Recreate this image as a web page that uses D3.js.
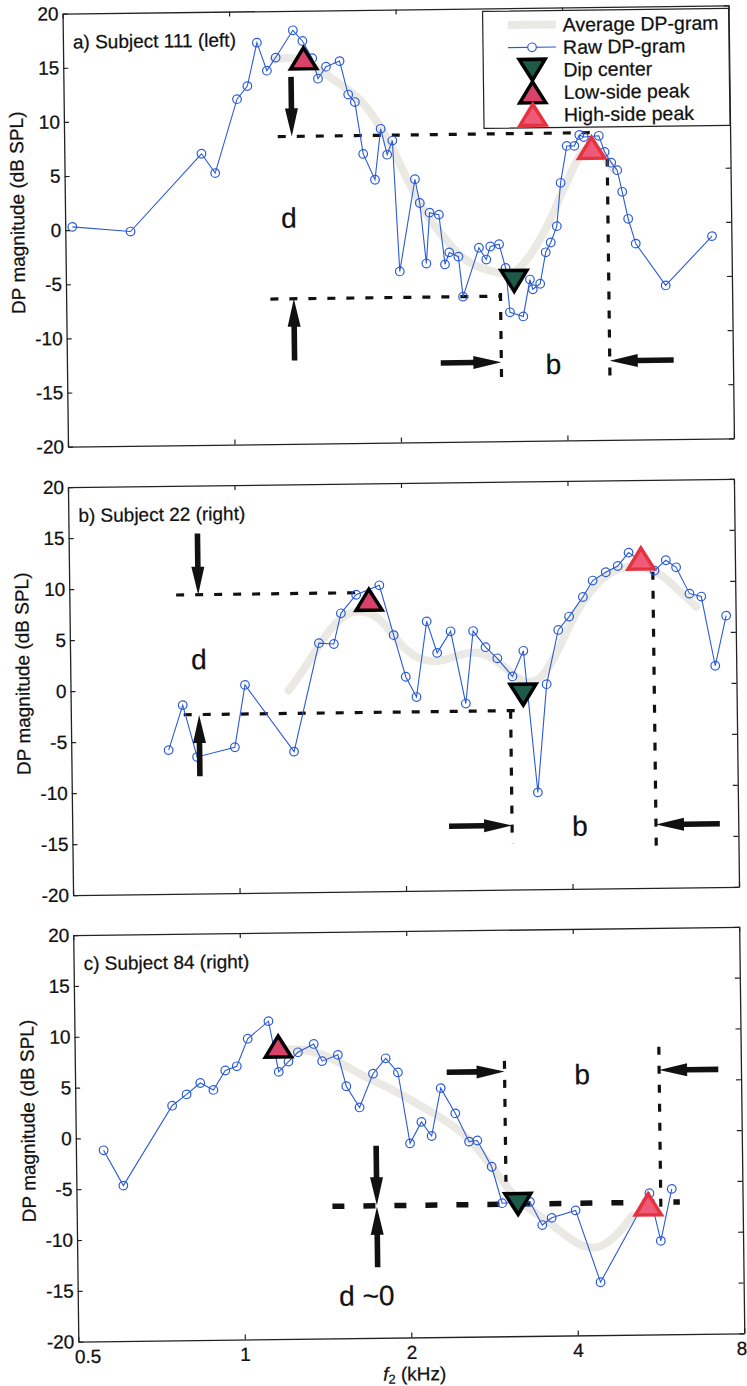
<!DOCTYPE html>
<html>
<head>
<meta charset="utf-8">
<script src="https://cdnjs.cloudflare.com/ajax/libs/d3/7.8.5/d3.min.js"></script>
<style>
  body { margin: 0; background: #fff; }
  svg text { font-family: "Liberation Sans", Arial, Helvetica, sans-serif; fill: #111; stroke: #111; stroke-width: 0.25px; }
</style>
</head>
<body>
<div id="chart"></div>
<script>
var freqTicks = [0.5, 1, 2, 4, 8];
var dbTicks = [-20, -15, -10, -5, 0, 5, 10, 15, 20];
var legendLabels = ["Average DP-gram", "Raw DP-gram", "Dip center", "Low-side peak", "High-side peak"];

// a) Subject 111 (left)
var rawFreqA = [0.515, 0.656, 0.885, 0.936, 1.029, 1.075, 1.121, 1.167, 1.211, 1.303, 1.355, 1.41, 1.443, 1.493, 1.58, 1.635, 1.68, 1.735, 1.82, 1.868, 1.917, 1.96,
  2.008, 2.149, 2.19, 2.244, 2.28, 2.37, 2.425, 2.47, 2.565, 2.61, 2.795, 2.88, 2.93, 3.04, 3.12, 3.17, 3.35, 3.45, 3.49, 3.6, 3.69, 3.77, 3.87, 3.94,
  4.05, 4.18, 4.27, 4.35, 4.63, 4.74, 4.87, 4.99, 5.09, 5.21, 5.37, 6.07, 7.38];
var rawDbA = [0.3, -0.2, 6.9, 5.1, 11.9, 13.1, 17.1, 14.5, 15.7, 18.2, 17.2, 15.6, 13.7, 14.8, 15.3, 12.2, 11.5, 6.7, 4.3, 9.0, 6.6, 7.9,
  -4.2, 4.3, 2.1, -3.5, 1.2, 1.0, -3.6, -2.5, -2.9, -6.6, -2.1, -3.2, -2.0, -1.8, -4.0, -8.1, -8.5, -5.1, -6.0, -5.5, -2.6, -1.7, -0.2, 3.8,
  7.2, 7.2, 8.2, 8.0, 8.1, 6.6, 5.6, 4.9, 2.9, 0.4, -1.9, -5.8, -1.3];
var avgFreqA = [1.2, 1.3, 1.4, 1.5, 1.6, 1.73, 1.85, 1.95, 2.05, 2.15, 2.28, 2.45, 2.6, 2.75, 2.9, 3.05, 3.2, 3.35, 3.5, 3.65, 3.8, 3.95, 4.1, 4.3, 4.5, 4.7, 4.9];
var avgDbA = [15.5, 15.8, 15, 14, 13, 11.7, 9.5, 7.5, 5, 2.8, 0.5, -1.5, -3, -3.8, -4.2, -4.5, -4.6, -3.8, -2.5, -1, 0.8, 2.8, 4.5, 6.8, 7.3, 6.5, 5.0];
var dipA = [3.23, -5.2], lowA = [1.36, 15.6], highA = [4.49, 7.0];
var dashA = [[[1.217, 8.4], [4.63, 8.4]], [[4.79, 6.0], [4.79, -14.3]], [[1.17, -6.6], [3.05, -6.6]], [[3.05, -6.3], [3.05, -14.8]]];
var arrowA = [[[1.29, 13.9], [1.29, 8.4]], [[1.29, -12.3], [1.29, -6.6]], [[2.37, -12.7], [3.05, -12.7]], [[6.25, -12.7], [4.79, -12.7]]];
var noteA = [["d", 1.27, 0.9], ["b", 3.79, -12.9]];

// b) Subject 22 (right)
var rawFreqB = [0.75, 0.797, 0.844, 0.988, 1.034, 1.264, 1.41, 1.50, 1.547, 1.65, 1.818, 1.925, 2.02, 2.11, 2.21, 2.305, 2.44, 2.59, 2.68, 2.82,
  2.96, 3.15, 3.30, 3.48, 3.63, 3.82, 4.0, 4.24, 4.42, 4.67, 4.91, 5.14, 5.72, 6.0, 6.26, 6.61, 6.94, 7.33, 7.69];
var rawDbB = [-5.9, -1.5, -6.6, -5.7, 0.4, -6.2, 4.4, 4.3, 7.3, 9.1, 10.0, 5.1, 1.0, -1.0, 6.4, 3.3, 5.4, -1.7, 5.4, 3.8,
  2.7, 0.9, 3.4, -10.5, 0.1, 5.4, 6.7, 8.6, 10.2, 11.0, 11.6, 12.9, 11.1, 12.1, 11.4, 8.8, 8.5, 1.7, 6.6];
var avgFreqB = [1.24, 1.35, 1.5, 1.65, 1.82, 1.95, 2.1, 2.3, 2.5, 2.7, 2.9, 3.1, 3.3, 3.5, 3.7, 3.9, 4.1, 4.35, 4.6, 4.9, 5.2, 5.5, 5.9, 6.3, 6.8];
var avgDbB = [-0.2, 2.5, 6.5, 7.8, 7.0, 4.5, 2.8, 2.3, 3.0, 3.5, 2.8, 1.5, 0.2, 0.3, 2.0, 4.5, 7.0, 9.0, 10.5, 11.3, 11.6, 11.5, 10.7, 9.2, 7.5];
var dipB = [3.29, -0.9], lowB = [1.74, 8.6], highB = [5.41, 12.3];
var dashB = [[[0.78, 9.3], [1.645, 9.3]], [[0.80, -2.45], [3.26, -2.45]], [[3.12, -2.45], [3.12, -15.5]], [[5.68, 11.0], [5.68, -15.9]]];
var arrowB = [[[0.855, 15.3], [0.855, 9.3]], [[0.853, -8.5], [0.853, -2.5]], [[2.40, -13.7], [3.12, -13.7]], [[7.41, -13.8], [5.68, -13.8]]];
var noteB = [["d", 0.855, 3.0], ["b", 4.14, -13.8]];

// c) Subject 84 (right)
var rawFreqC = [0.561, 0.608, 0.748, 0.795, 0.842, 0.889, 0.935, 0.981, 1.028, 1.122, 1.168, 1.217, 1.266, 1.353, 1.40, 1.495, 1.546, 1.632, 1.729,
  1.824, 1.918, 2.01, 2.11, 2.2, 2.29, 2.43, 2.57, 2.66, 2.82, 2.94, 3.3, 3.47, 3.61, 3.99, 4.41, 5.43, 5.68, 5.96];
var rawDbC = [-1.2, -4.7, 3.1, 4.2, 5.3, 4.6, 6.5, 6.9, 9.6, 11.3, 6.3, 7.3, 8.2, 9.0, 7.3, 7.9, 4.8, 2.7, 6.0,
  7.5, 6.1, -0.9, 1.2, -0.2, 4.5, 2.0, -0.8, -0.7, -3.3, -6.9, -6.8, -9.1, -8.4, -7.7, -14.8, -6.1, -10.8, -5.7];
var avgFreqC = [1.2, 1.3, 1.4, 1.5, 1.6, 1.7, 1.85, 2.0, 2.15, 2.3, 2.45, 2.6, 2.75, 2.9, 3.05, 3.2, 3.4, 3.6, 3.85, 4.1, 4.35, 4.6, 4.85, 5.05];
var avgDbC = [8.5, 8.5, 8.0, 7.2, 6.3, 5.5, 4.6, 3.5, 2.5, 1.5, 0.5, -0.8, -2.5, -4.2, -5.8, -7.0, -8.0, -9.0, -10.3, -11.3, -11.5, -10.8, -9.5, -8.3];
var dipC = [3.14, -7.0], lowC = [1.167, 8.8], highC = [5.40, -7.2];
var dashC = [[[1.45, -7.0], [6.16, -7.0]], [[2.99, 7.1], [2.99, -4.8]], [[5.69, 8.3], [5.69, -7.7]]];
var arrowC = [[[1.745, -1.1], [1.745, -6.95]], [[1.745, -13.05], [1.745, -7.1]], [[2.35, 6.05], [2.99, 6.05]], [[7.28, 6.0], [5.69, 6.0]]];
var noteC = [["b", 4.13, 5.7], ["d ~0", 1.666, -15.8]];

var W = 666, tilt = -0.72;
var blue = "#2b5bd4", ink = "#111", band = "#e3e0d9";
var lowFill = "#d9406a", dipFill = "#1d5a48", highFill = "#ee5a78", highStroke = "#e5323f";

var panels = [
  {label: "a) Subject 111 (left)", left: 65.25, top: 9.5, h: 433, rawF: rawFreqA, rawDb: rawDbA, avgF: avgFreqA, avgDb: avgDbA,
   dip: dipA, low: lowA, high: highA, dashes: dashA, arrows: arrowA, notes: noteA, legend: true},
  {label: "b) Subject 22 (right)", left: 70.5, top: 483, h: 408, rawF: rawFreqB, rawDb: rawDbB, avgF: avgFreqB, avgDb: avgDbB,
   dip: dipB, low: lowB, high: highB, dashes: dashB, arrows: arrowB, notes: noteB},
  {label: "c) Subject 84 (right)", left: 75.75, top: 931, h: 406.5, rawF: rawFreqC, rawDb: rawDbC, avgF: avgFreqC, avgDb: avgDbC,
   dip: dipC, low: lowC, high: highC, dashes: dashC, arrows: arrowC, notes: noteC, heavy: 0, xLabels: true}
];

var svg = d3.select("#chart").append("svg")
  .attr("width", 747)
  .attr("height", 1386);

panels.forEach(drawPanel);

function triangle(up) {
  var w = 26, h = 21;
  return up
    ? "M0," + (-h / 2) + "L" + (w / 2) + "," + (h / 2) + "L" + (-w / 2) + "," + (h / 2) + "Z"
    : "M0," + (h / 2) + "L" + (w / 2) + "," + (-h / 2) + "L" + (-w / 2) + "," + (-h / 2) + "Z";
}

function marker(g, px, py, kind) {
  var m = g.append("path")
    .attr("transform", "translate(" + px + "," + py + ")")
    .attr("stroke-width", 3.5)
    .attr("stroke-linejoin", "miter");
  if (kind == "dip") m.attr("d", triangle(false)).attr("fill", dipFill).attr("stroke", "#000");
  if (kind == "low") m.attr("d", triangle(true)).attr("fill", lowFill).attr("stroke", "#000");
  if (kind == "high") m.attr("d", triangle(true)).attr("fill", highFill).attr("stroke", highStroke);
}

function arrow(g, x1, y1, x2, y2) {
  var dx = x2 - x1, dy = y2 - y1,
    len = Math.sqrt(dx * dx + dy * dy),
    a = Math.atan2(dy, dx) * 180 / Math.PI,
    hl = 28, hw = 6.5, sw = 2.8;
  g.append("path")
    .attr("d", "M0," + (-sw) + "L" + (len - hl) + "," + (-sw) + "L" + (len - hl) + "," + (-hw) + "L" + len + ",0L" +
      (len - hl) + "," + hw + "L" + (len - hl) + "," + sw + "L0," + sw + "Z")
    .attr("transform", "translate(" + x1 + "," + y1 + ") rotate(" + a + ")")
    .attr("fill", ink);
}

function drawPanel(p, i) {
  var h = p.h;
  var g = svg.append("g")
    .attr("transform", "translate(" + p.left + "," + p.top + ") rotate(" + tilt + "," + (W / 2) + "," + (h / 2) + ")");

  var x = d3.scaleLog().domain([0.5, 8]).range([0, W]);
  var y = d3.scaleLinear().domain([-20, 20]).range([h, 0]);
  var line = d3.line().x(function(d) { return x(d[0]); }).y(function(d) { return y(d[1]); });
  var smooth = d3.line().curve(d3.curveBasis).x(function(d) { return x(d[0]); }).y(function(d) { return y(d[1]); });

  // average DP-gram, a faint wide band
  g.append("path")
    .datum(d3.zip(p.avgF, p.avgDb))
    .attr("d", smooth)
    .attr("fill", "none")
    .attr("stroke", band)
    .attr("stroke-opacity", 0.7)
    .attr("stroke-width", 8)
    .attr("stroke-linecap", "round");

  // dashed guide lines
  p.dashes.forEach(function(d, k) {
    var heavy = p.heavy === k;
    g.append("path")
      .attr("d", line(d))
      .attr("fill", "none")
      .attr("stroke", ink)
      .attr("stroke-width", heavy ? 5.5 : 3.2)
      .attr("stroke-dasharray", heavy ? "12,19" : "8,11");
  });

  // raw DP-gram
  var pts = d3.zip(p.rawF, p.rawDb);
  g.append("path")
    .datum(pts)
    .attr("d", line)
    .attr("fill", "none")
    .attr("stroke", blue)
    .attr("stroke-width", 1.1);

  g.selectAll("circle.raw")
    .data(pts)
    .enter().append("circle")
    .attr("class", "raw")
    .attr("cx", function(d) { return x(d[0]); })
    .attr("cy", function(d) { return y(d[1]); })
    .attr("r", 4.3)
    .attr("fill", "none")
    .attr("stroke", blue)
    .attr("stroke-width", 1.2);

  marker(g, x(p.low[0]), y(p.low[1]), "low");
  marker(g, x(p.dip[0]), y(p.dip[1]), "dip");
  marker(g, x(p.high[0]), y(p.high[1]), "high");

  p.arrows.forEach(function(a) {
    arrow(g, x(a[0][0]), y(a[0][1]), x(a[1][0]), y(a[1][1]));
  });

  p.notes.forEach(function(n) {
    g.append("text")
      .attr("x", x(n[1]))
      .attr("y", y(n[2]))
      .attr("dy", "0.36em")
      .attr("text-anchor", "middle")
      .attr("font-size", 28)
      .text(n[0]);
  });

  g.append("text")
    .attr("x", 10)
    .attr("y", 35)
    .attr("font-size", 19)
    .text(p.label);

  // axes box with inward ticks
  var axes = [
    g.append("g").call(d3.axisLeft(y).tickValues(dbTicks).tickSizeInner(-5).tickSizeOuter(0).tickPadding(4).tickFormat(String)),
    g.append("g").attr("transform", "translate(" + W + ",0)")
      .call(d3.axisRight(y).tickValues(dbTicks).tickSizeInner(-5).tickSizeOuter(0).tickFormat("")),
    g.append("g").call(d3.axisTop(x).tickValues(freqTicks).tickSizeInner(-5).tickSizeOuter(0).tickFormat("")),
    g.append("g").attr("transform", "translate(0," + h + ")")
      .call(d3.axisBottom(x).tickValues(freqTicks).tickSizeInner(-5).tickSizeOuter(0).tickPadding(8)
        .tickFormat(p.xLabels ? String : ""))
  ];
  axes.forEach(function(a) {
    a.attr("font-size", 19).attr("font-family", null);
    a.select(".domain").attr("stroke", "#222").attr("stroke-width", 1.3);
    a.selectAll(".tick line").attr("stroke", "#222").attr("stroke-width", 1.2);
    a.selectAll(".tick text").attr("fill", ink);
  });
  // end labels nudged inward: 0.5 clears the -20 label, 8 sits on the page edge
  axes[3].selectAll(".tick text").attr("dx", function(d) { return d == 0.5 ? 9 : d == 8 ? -3 : 0; });

  g.append("text")
    .attr("transform", "translate(-41," + (h / 2 - 18) + ") rotate(-90)")
    .attr("text-anchor", "middle")
    .attr("font-size", 19)
    .text("DP magnitude (dB SPL)");

  if (p.xLabels) {
    var xl = g.append("text")
      .attr("x", W / 2 + 3)
      .attr("y", h + 43)
      .attr("text-anchor", "middle")
      .attr("font-size", 19);
    xl.append("tspan").attr("font-style", "italic").text("f");
    xl.append("tspan").attr("font-size", 13).attr("dy", 3).text("2");
    xl.append("tspan").attr("dy", -3).text(" (kHz)");
  }

  if (p.legend) drawLegend(g);
}

function drawLegend(g) {
  var lg = g.append("g").attr("transform", "translate(" + (W - 246) + ",3)");
  lg.append("rect")
    .attr("width", 246)
    .attr("height", 117)
    .attr("fill", "#fff")
    .attr("stroke", "#222")
    .attr("stroke-width", 1.2);

  var rows = legendLabels.map(function(t, k) { return {text: t, y: 14 + k * 22.5}; });
  lg.selectAll("text.leg")
    .data(rows)
    .enter().append("text")
    .attr("class", "leg")
    .attr("x", 80)
    .attr("y", function(d) { return d.y; })
    .attr("dy", "0.36em")
    .attr("font-size", 19.5)
    .text(function(d) { return d.text; });

  lg.append("line")
    .attr("x1", 25).attr("x2", 73)
    .attr("y1", rows[0].y).attr("y2", rows[0].y)
    .attr("stroke", band).attr("stroke-opacity", 0.7).attr("stroke-width", 8);
  lg.append("line")
    .attr("x1", 25).attr("x2", 73)
    .attr("y1", rows[1].y).attr("y2", rows[1].y)
    .attr("stroke", blue).attr("stroke-width", 1.1);
  lg.append("circle")
    .attr("cx", 49).attr("cy", rows[1].y).attr("r", 4.3)
    .attr("fill", "#fff").attr("stroke", blue).attr("stroke-width", 1.2);
  marker(lg, 49, rows[2].y, "dip");
  marker(lg, 49, rows[3].y, "low");
  marker(lg, 49, rows[4].y, "high");
}
</script>
</body>
</html>
